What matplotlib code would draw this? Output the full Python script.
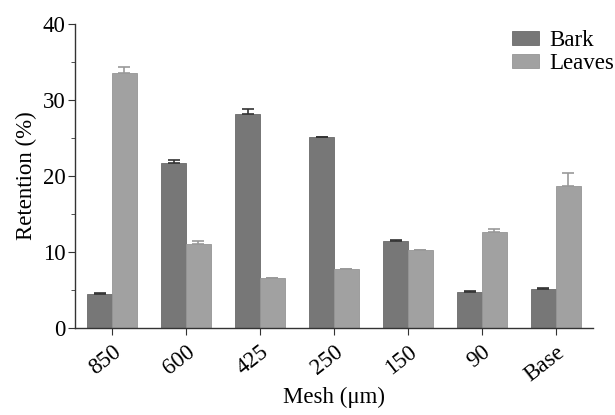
import matplotlib
matplotlib.use("Agg")
import matplotlib.pyplot as plt
import numpy as np
from matplotlib.ticker import MultipleLocator

categories = ["850", "600", "425", "250", "150", "90", "Base"]
bark = [4.4, 21.7, 28.2, 25.1, 11.4, 4.7, 5.1]
bark_err = [0.15, 0.35, 0.6, 0.05, 0.2, 0.1, 0.1]
leaves = [33.5, 11.0, 6.5, 7.7, 10.2, 12.6, 18.7]
leaves_err = [0.8, 0.5, 0.1, 0.1, 0.1, 0.45, 1.7]

plt.rcParams['font.family'] = ['Liberation Serif', 'DejaVu Serif']

fig = plt.figure(figsize=(6.15, 4.15), dpi=100)
ax = fig.add_axes([0.122, 0.21, 0.842, 0.732])

x = np.arange(len(categories))
w = 0.335
ax.bar(x - w/2, bark, w, color='#777777', edgecolor='#6a6a6a', linewidth=0.6,
       yerr=[np.zeros(len(bark)), bark_err], error_kw=dict(ecolor='#333333', capsize=4, elinewidth=1.2, capthick=1.2),
       label='Bark')
ax.bar(x + w/2, leaves, w, color='#a1a1a1', edgecolor='#959595', linewidth=0.6,
       yerr=[np.zeros(len(leaves)), leaves_err], error_kw=dict(ecolor='#999999', capsize=4, elinewidth=1.2, capthick=1.2),
       label='Leaves')

ax.set_xlim(-0.5, 6.5)
ax.set_ylim(0, 40)
ax.yaxis.set_major_locator(MultipleLocator(10))
ax.yaxis.set_minor_locator(MultipleLocator(5))
ax.set_xticks(x)
ax.set_xticklabels(categories, rotation=38, ha='right', rotation_mode='anchor')
for s in ['top', 'right']:
    ax.spines[s].set_visible(False)
for s in ['left', 'bottom']:
    ax.spines[s].set_color('#333333')
    ax.spines[s].set_linewidth(1.0)
ax.tick_params(axis='both', which='major', labelsize=16.5, length=5, color='#333333')
ax.tick_params(axis='y', which='minor', length=3, color='#333333')
ax.tick_params(axis='x', pad=5)
ax.tick_params(axis='y', pad=2)
ax.set_ylabel('Retention (%)', fontsize=16.5, labelpad=4)
ax.set_xlabel('Mesh (μm)', fontsize=16.5, labelpad=1)

leg = fig.legend(loc='upper left', bbox_to_anchor=(0.818, 0.95), frameon=False, fontsize=16.5,
                 handlelength=1.18, handleheight=0.55, handletextpad=0.44, labelspacing=0.1, borderaxespad=0)

fig.savefig('out.png', dpi=100)
